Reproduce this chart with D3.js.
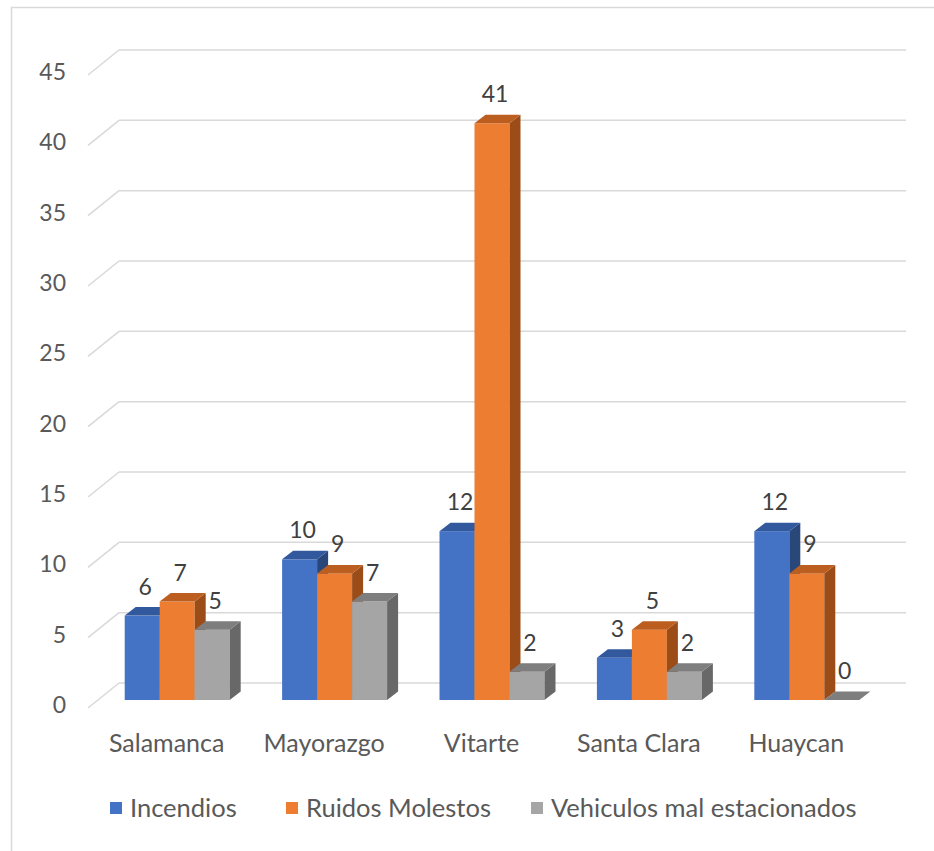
<!DOCTYPE html>
<html>
<head>
<meta charset="utf-8">
<script src="https://cdn.jsdelivr.net/npm/d3@7"></script>
<style>
  html, body { margin: 0; padding: 0; background: #fff; }
  svg { display: block; }
  text { font-family: Lato, "Open Sans", sans-serif; }
</style>
</head>
<body>
<svg id="chart" width="934" height="851"></svg>
<script>
const categories = ["Salamanca", "Mayorazgo", "Vitarte", "Santa Clara", "Huaycan"];
const seriesNames = ["Incendios", "Ruidos Molestos", "Vehiculos mal estacionados"];
const incendios = [6, 10, 12, 3, 12];
const ruidosMolestos = [7, 9, 41, 5, 9];
const vehiculos = [5, 7, 2, 2, 0];
const yTicks = [0, 5, 10, 15, 20, 25, 30, 35, 40, 45];

const seriesValues = [incendios, ruidosMolestos, vehiculos];
const colors = [
  {front: "#4472C4", top: "#32589D", side: "#294779"},
  {front: "#ED7D31", top: "#BD5E21", side: "#9B4C17"},
  {front: "#A5A5A5", top: "#7E7E7E", side: "#686868"}
];

const svg = d3.select("#chart");

// frame
svg.append("path")
  .attr("d", "M11.5,851 L11.5,7.5 L934,7.5")
  .attr("fill", "none").attr("stroke", "#D9D9D9").attr("stroke-width", 1.5);

// 3D geometry
const depth = {dx: 31, dy: -25};      // floor depth (front -> back wall)
const setback = {dx: 10.5, dy: -8};    // bars placed inside the floor
const barDepth = {dx: 11, dy: -8.5};

const x = d3.scaleBand().domain(categories).range([88, 875]).paddingInner(0.333).paddingOuter(0.1665);
const xs = d3.scaleBand().domain(seriesNames).range([0, x.bandwidth()]);
const y = d3.scaleLinear().domain([0, 45]).range([708, 75]);

// gridlines on back wall + slanted side-wall lines
const grid = svg.append("g");
yTicks.forEach(t => {
  const yf = y(t);
  grid.append("line")
    .attr("x1", 88).attr("y1", yf)
    .attr("x2", 88 + depth.dx).attr("y2", yf + depth.dy)
    .attr("stroke", "#D9D9D9").attr("stroke-width", 1.5);
  grid.append("line")
    .attr("x1", 88 + depth.dx).attr("y1", yf + depth.dy)
    .attr("x2", 875 + depth.dx).attr("y2", yf + depth.dy)
    .attr("stroke", "#D9D9D9").attr("stroke-width", 1.5);
});

// y axis labels
svg.append("g").selectAll("text").data(yTicks).join("text")
  .attr("x", 66).attr("y", d => y(d) - 3)
  .attr("text-anchor", "end").attr("dy", "0.35em")
  .attr("font-size", 23).attr("fill", "#595959")
  .text(d => d);

// bars
const bars = svg.append("g");
const labels = svg.append("g");
categories.forEach((c, i) => {
  seriesNames.forEach((s, j) => {
    const v = seriesValues[j][i];
    const x0 = x(c) + xs(s) + setback.dx;
    const w = xs.bandwidth();
    const bottom = y(0) + setback.dy;
    const top = y(v) + setback.dy;
    const col = colors[j];
    // front
    if (v > 0) {
      bars.append("rect").attr("x", x0).attr("y", top)
        .attr("width", w).attr("height", bottom - top)
        .attr("fill", col.front);
    }
    // side
    bars.append("path")
      .attr("d", `M${x0 + w},${top} L${x0 + w + barDepth.dx},${top + barDepth.dy} L${x0 + w + barDepth.dx},${bottom + barDepth.dy} L${x0 + w},${bottom} Z`)
      .attr("fill", col.side);
    // top
    bars.append("path")
      .attr("d", `M${x0},${top} L${x0 + barDepth.dx},${top + barDepth.dy} L${x0 + w + barDepth.dx},${top + barDepth.dy} L${x0 + w},${top} Z`)
      .attr("fill", col.top);
    // label
    labels.append("text")
      .attr("x", x0 + w / 2 + 3).attr("y", top - 29)
      .attr("dy", "0.35em").attr("text-anchor", "middle")
      .attr("font-size", 23).attr("fill", "#404040")
      .text(v);
  });
});

// category labels
svg.append("g").selectAll("text").data(categories).join("text")
  .attr("x", d => x(d) + x.bandwidth() / 2)
  .attr("y", 743).attr("dy", "0.35em")
  .attr("text-anchor", "middle")
  .attr("font-size", 25).attr("fill", "#595959")
  .text(d => d);

// legend
const legendX = [110, 286, 531];
const lg = svg.append("g");
seriesNames.forEach((s, j) => {
  lg.append("rect").attr("x", legendX[j]).attr("y", 802)
    .attr("width", 12).attr("height", 12).attr("fill", colors[j].front);
  lg.append("text").attr("x", legendX[j] + 20).attr("y", 808)
    .attr("dy", "0.35em").attr("font-size", 25.5).attr("fill", "#595959")
    .text(s);
});
</script>
</body>
</html>
